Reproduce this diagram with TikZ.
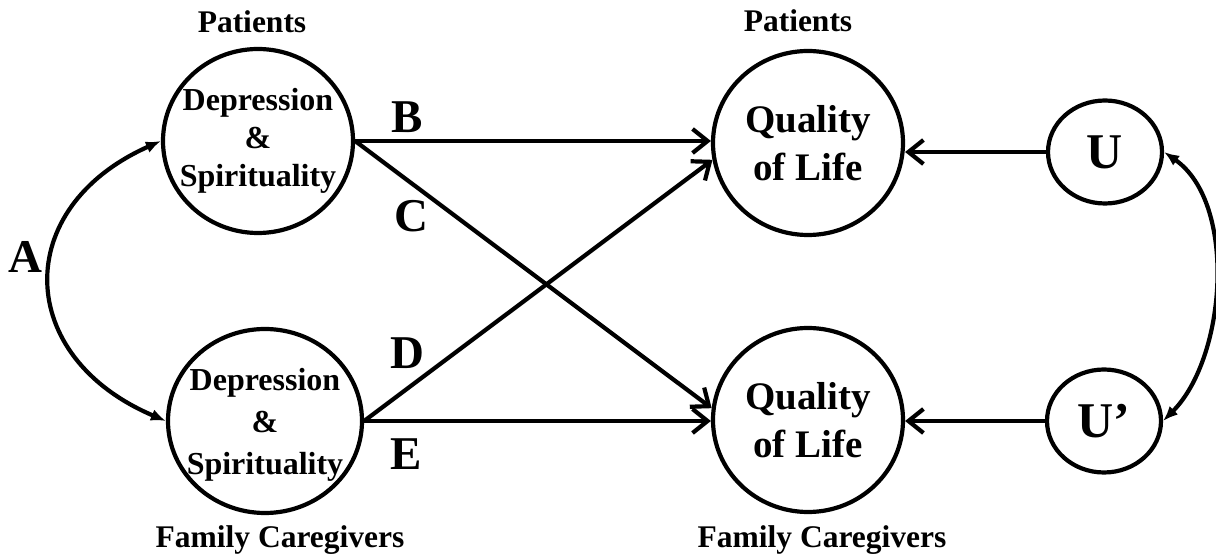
\documentclass[tikz,border=0pt]{standalone}
\usepackage{fontspec}
\setmainfont{Liberation Serif}
\usetikzlibrary{arrows.meta,shapes.geometric}
\begin{document}
\begin{tikzpicture}[x=1pt,y=1pt,
  bigell/.style={draw, ellipse, line width=4.2pt, minimum width=190pt, minimum height=184pt, inner sep=0pt},
  smallell/.style={draw, ellipse, line width=4.2pt, minimum width=114pt, minimum height=103pt, inner sep=0pt},
  dstext/.style={font=\bfseries\fontsize{32}{38}\selectfont, align=center},
  dstextb/.style={font=\bfseries\fontsize{32}{42}\selectfont, align=center},
  qtext/.style={font=\bfseries\fontsize{39}{48}\selectfont, align=center},
  utext/.style={font=\bfseries\fontsize{50}{52}\selectfont},
  lbl/.style={font=\bfseries\fontsize{47}{48}\selectfont, anchor=base, inner sep=0pt},
  hdr/.style={font=\bfseries\fontsize{31.5}{33}\selectfont, anchor=base, inner sep=0pt},
  arr/.style={line width=4.2pt, -{Straight Barb[length=15pt,width=24pt]}},
  curv/.style={line width=4.2pt, {Latex[length=15pt,width=12pt]}-{Latex[length=15pt,width=12pt]}}
]
\useasboundingbox (0,0) rectangle (1216,557);

\node[bigell, label={[dstext]center:{Depression\\\&\\Spirituality}}] (ds1) at (258,416) {};
\node[bigell, minimum width=194pt, label={[dstextb, yshift=-4pt]center:{Depression\\\&\\Spirituality}}] (ds2) at (265,136) {};
\node[bigell, label={[qtext]center:{Quality\\of Life}}] (q1) at (808,414) {};
\node[bigell, label={[qtext]center:{Quality\\of Life}}] (q2) at (808,137) {};
\node[smallell, label={[utext]center:{U}}] (u1) at (1105,405) {};
\node[smallell, label={[utext]center:{U’}}] (u2) at (1104,136) {};

\node[hdr] (p1) at (252,524) {Patients};
\node[hdr] (p2) at (798,525) {Patients};
\node[hdr] (f1) at (280,9) {Family Caregivers};
\node[hdr] (f2) at (822,9) {Family Caregivers};

\draw[arr] (ds1.east) -- (ds1.east -| q1.west);
\draw[arr] (ds1.east) -- (q2.173);
\draw[arr] (ds2.east) -- (q1.190);
\draw[arr] (ds2.east) -- (ds2.east -| q2.west);
\draw[arr] (u1.west) -- (u1.west -| q1.east);
\draw[arr] (u2.west) -- (u2.west -| q2.east);

\draw[curv] (ds1.west) to[out=204,in=157,looseness=1.5] (ds2.west);
\draw[curv] (u1.east) to[out=-35,in=45,looseness=0.85] (u2.east);

\node[lbl] (lA) at (25,284) {A};
\node[lbl] (lB) at (407,424) {B};
\node[lbl] (lC) at (411,325) {C};
\node[lbl] (lD) at (407,188) {D};
\node[lbl] (lE) at (406,87) {E};
\end{tikzpicture}
\end{document}
